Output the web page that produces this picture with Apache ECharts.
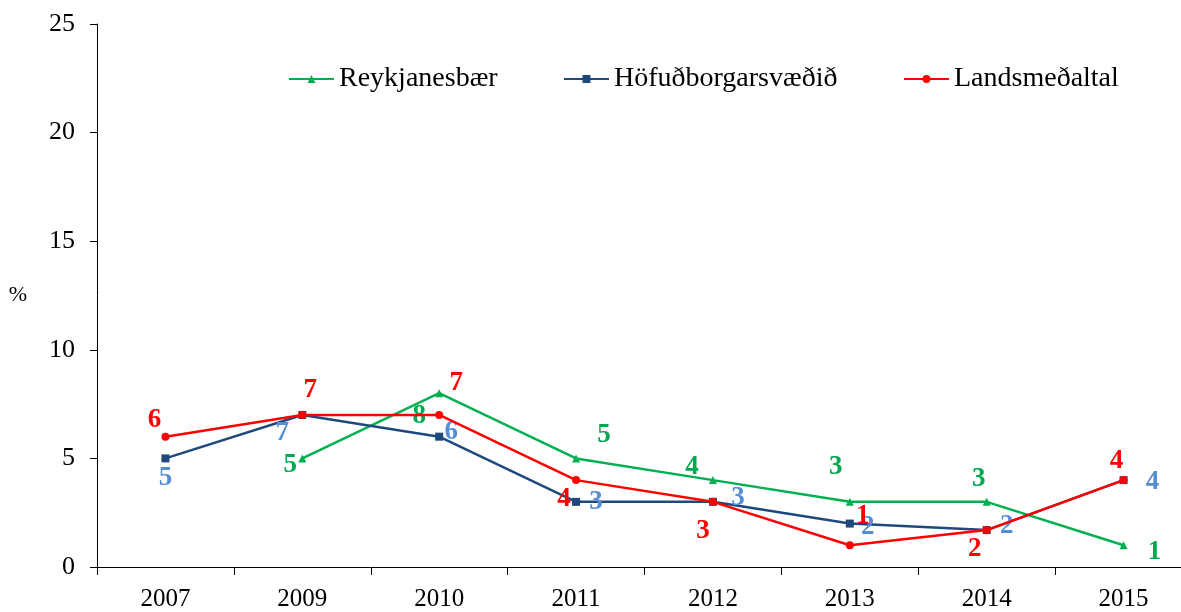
<!DOCTYPE html>
<html>
<head>
<meta charset="utf-8">
<script src="https://cdn.jsdelivr.net/npm/echarts@6/dist/echarts.min.js"></script>
<style>
html,body{margin:0;padding:0;background:#fff;overflow:hidden;}
#chart{width:1192px;height:612px;}
</style>
</head>
<body>
<div id="chart"></div>
<script>
var years = ['2007','2009','2010','2011','2012','2013','2014','2015'];
var reykjanesbaer = ['-', 5, 8, 5, 4, 3, 3, 1];
var hofudborg = [5, 7, 6, 3, 3, 2, 1.7, 4];
var landsmedaltal = [6, 7, 7, 4, 3, 1, 1.7, 4];

// label offsets per point (relative to the point centre)
var offGreen = [null, [-12,7], [-20,23], [28,-23], [-21,-13], [-14,-35], [-8,-23], [31,7]];
var offBlue = [[0,20], [-20,18], [12,-5], [20,0], [25,-4], [18,3], [20,-4], [29,2]];
var offRed = [[-11,-17], [8,-25], [17,-32], [-12,19], [-10,29], [13,-29], [-12,19], [-7,-19]];

var serif = 'Liberation Serif';

function build(vals, offs){
	var out = [];
	for(var i = 0; i < vals.length; i++){
		if(vals[i] === '-'){ out.push('-'); continue; }
		out.push({
			value: vals[i],
			label: {offset: offs[i]}
		});
	};
	return out;
};

function series(name, vals, offs, lineColor, labelColor, symbol, size, z){
	return {
		name: name,
		type: 'line',
		z: z,
		data: build(vals, offs),
		symbol: symbol,
		symbolSize: size,
		color: lineColor,
		lineStyle: {width: 2.5, color: lineColor},
		itemStyle: {color: lineColor},
		label: {
			show: true,
			position: 'inside',
			color: labelColor,
			fontFamily: serif,
			fontWeight: 'bold',
			fontSize: 27,
			formatter: function(p){ return Math.round(p.value); }
		},
		emphasis: {disabled: true},
		animation: false
	};
};

function legendAt(name, left){
	return {
		data: [name],
		left: left,
		top: 60,
		itemWidth: 45,
		itemHeight: 10,
		itemGap: 5,
		textStyle: {fontFamily: serif, fontSize: 28, color: '#000'},
		selectedMode: false
	};
};

var chart = echarts.init(document.getElementById('chart'));
chart.setOption({
	backgroundColor: '#fff',
	legend: [
		legendAt('Reykjanesbær', 283),
		legendAt('Höfuðborgarsvæðið', 558),
		legendAt('Landsmeðaltal', 898)
	],
	grid: {left: 97, top: 24, bottom: 44, right: 0, containLabel: false},
	xAxis: {
		type: 'category',
		data: years,
		boundaryGap: true,
		axisLine: {lineStyle: {color: '#000', width: 1}},
		axisTick: {show: true, inside: false, length: 8, lineStyle: {color: '#000'}},
		axisLabel: {color: '#000', fontFamily: serif, fontSize: 25, margin: 20},
		splitLine: {show: false}
	},
	yAxis: {
		type: 'value',
		min: 0,
		max: 25,
		interval: 5,
		name: '%',
		nameLocation: 'middle',
		nameRotate: 0,
		nameGap: 70,
		nameTextStyle: {color: '#000', fontFamily: serif, fontSize: 22},
		axisLine: {show: true, lineStyle: {color: '#000', width: 1}},
		axisTick: {show: true, inside: false, length: 7, lineStyle: {color: '#000'}},
		axisLabel: {color: '#000', fontFamily: serif, fontSize: 26, margin: 22},
		splitLine: {show: false}
	},
	series: [
		series('Reykjanesbær', reykjanesbaer, offGreen, '#00B050', '#00A84F', 'triangle', 8, 2),
		series('Höfuðborgarsvæðið', hofudborg, offBlue, '#1F497D', '#558ED5', 'rect', 8, 2),
		series('Landsmeðaltal', landsmedaltal, offRed, '#FF0000', '#FF0000', 'circle', 8, 3)
	]
});
</script>
</body>
</html>
